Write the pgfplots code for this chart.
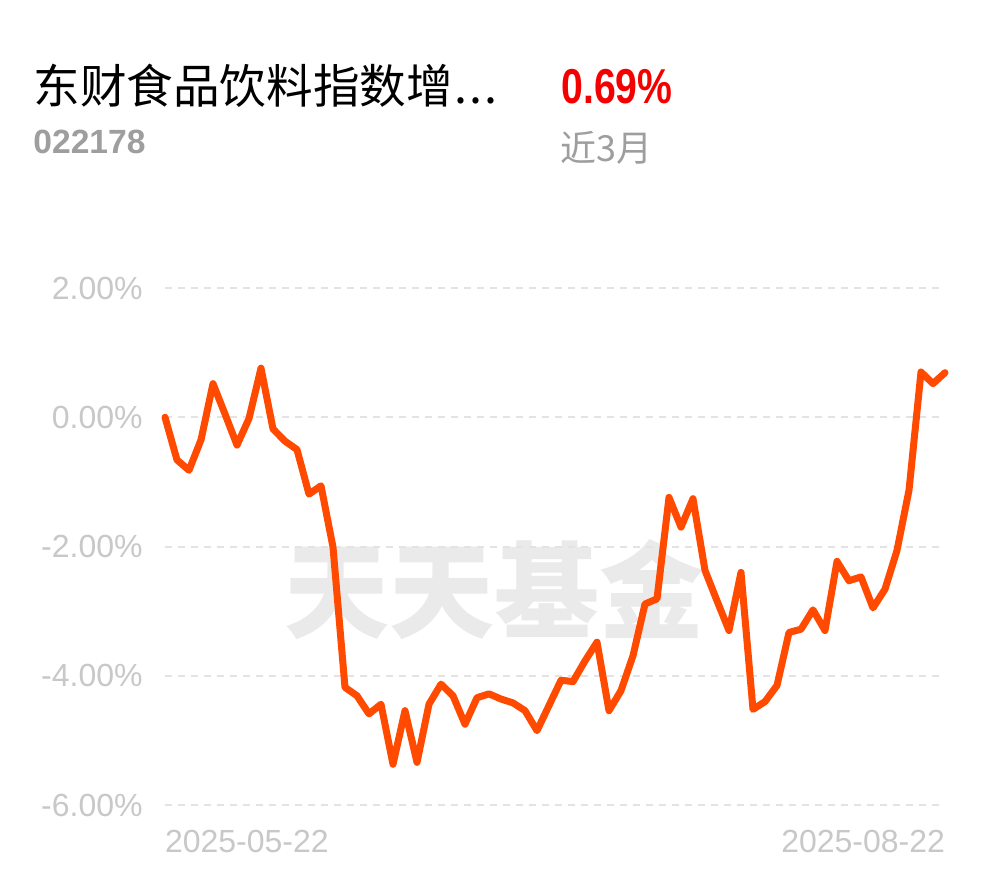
\documentclass[border=0pt]{standalone}
\usepackage{pgfplots}
\pgfplotsset{compat=1.18}
\usepackage{fontspec}
\setmainfont{Liberation Sans}
\newfontfamily\cjk{Noto Sans CJK SC}
\newfontfamily\numfont[FakeStretch=0.8]{Liberation Sans}
\definecolor{lineor}{HTML}{FF4A00}
\definecolor{gridc}{HTML}{E3E3E3}
\definecolor{tickc}{HTML}{C8C8C8}
\definecolor{grayt}{HTML}{9E9E9E}
\definecolor{wm}{HTML}{EAEAEA}
\definecolor{redt}{HTML}{F50000}
\begin{document}
\begin{tikzpicture}
\fill[white] (0pt,0pt) rectangle (495pt,-439pt);
\node[font=\cjk\bfseries\fontsize{52.5pt}{52.5pt}\selectfont, text=wm, inner sep=0pt] at (247pt,-295pt) {天天基金};
\node[anchor=west, inner sep=0pt, font=\cjk\fontsize{23.3pt}{23.3pt}\selectfont] at (16.5pt,-43pt) {东财食品饮料指数增\hspace{1pt}.\hspace{1pt}.\hspace{1pt}.};
\node[anchor=base west, inner sep=0pt, font=\bfseries\fontsize{16.8pt}{16.8pt}\selectfont, text=grayt] at (16.5pt,-76.5pt) {022178};
\node[anchor=base west, inner sep=0pt, font=\numfont\bfseries\fontsize{24.5pt}{24.5pt}\selectfont, text=redt] at (280.5pt,-51.5pt) {0.69\%};
\node[anchor=base west, inner sep=0pt, font=\cjk\fontsize{18pt}{18pt}\selectfont, text=grayt] at (280pt,-80.5pt) {近3月};
\begin{axis}[
  at={(82.5pt,-402.5pt)}, anchor=south west,
  scale only axis, width=390pt, height=258.5pt,
  xmin=0, xmax=65, ymin=-6, ymax=2,
  axis line style={draw=none}, major tick length=0pt, tick style={draw=none},
  ytick={-6,-4,-2,0,2},
  yticklabels={-6.00\%,-4.00\%,-2.00\%,0.00\%,2.00\%},
  yticklabel style={font=\fontsize{16pt}{16pt}\selectfont, text=tickc, inner sep=0pt, anchor=east, xshift=-11pt},
  xtick={0,65},
  xticklabels={\makebox[0pt][l]{2025-05-22},\makebox[0pt][r]{2025-08-22}},
  xticklabel style={font=\fontsize{16pt}{16pt}\selectfont, text=tickc, inner sep=0pt, anchor=north, yshift=-12.5pt},
  ymajorgrids, grid style={gridc, line width=1pt, dash pattern=on 3.5pt off 3pt},
  clip=false,
]
\addplot[color=lineor, line width=3.5pt, line join=round, line cap=round, mark=none] table {
x y
0 0.00
1 -0.66
2 -0.82
3 -0.35
4 0.52
5 0.05
6 -0.43
7 -0.02
8 0.76
9 -0.18
10 -0.37
11 -0.50
12 -1.19
13 -1.06
14 -2.01
15 -4.18
16 -4.31
17 -4.59
18 -4.44
19 -5.37
20 -4.54
21 -5.34
22 -4.44
23 -4.13
24 -4.31
25 -4.75
26 -4.34
27 -4.28
28 -4.36
29 -4.42
30 -4.54
31 -4.85
32 -4.46
33 -4.07
34 -4.09
35 -3.77
36 -3.48
37 -4.54
38 -4.23
39 -3.69
40 -2.89
41 -2.81
42 -1.24
43 -1.70
44 -1.26
45 -2.37
46 -2.84
47 -3.30
48 -2.40
49 -4.52
50 -4.40
51 -4.15
52 -3.33
53 -3.28
54 -2.98
55 -3.30
56 -2.23
57 -2.53
58 -2.47
59 -2.95
60 -2.66
61 -2.06
62 -1.13
63 0.70
64 0.52
65 0.69
};
\end{axis}
\end{tikzpicture}
\end{document}
